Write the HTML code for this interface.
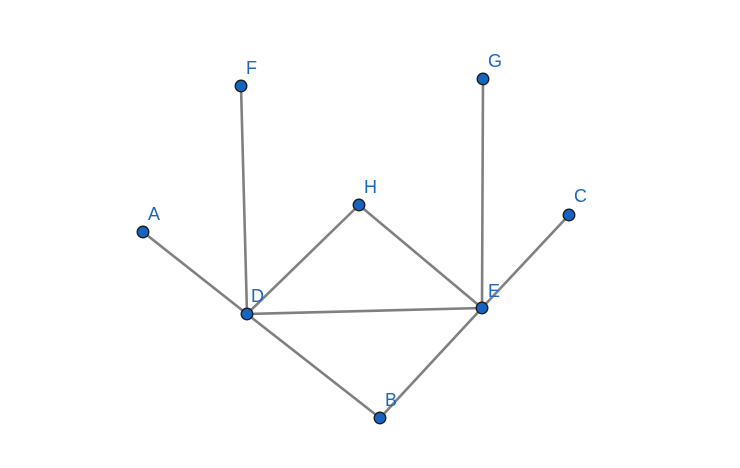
<!DOCTYPE html>
<html><head><meta charset="utf-8"><style>
html,body{margin:0;padding:0;background:#fff;}
svg{display:block;}
text{font-family:"Liberation Sans",sans-serif;font-size:18px;fill:#1e66c0;}
</style></head><body>
<svg width="740" height="468" viewBox="0 0 740 468">
<g stroke="#808080" stroke-width="2.6" stroke-linecap="round">
<line x1="143" y1="232" x2="247" y2="314"/>
<line x1="241" y1="86" x2="247" y2="314"/>
<line x1="247" y1="314" x2="359" y2="205"/>
<line x1="359" y1="205" x2="482" y2="308"/>
<line x1="247" y1="314" x2="482" y2="308"/>
<line x1="483" y1="79" x2="482" y2="308"/>
<line x1="569" y1="215" x2="482" y2="308"/>
<line x1="247" y1="314" x2="380" y2="418"/>
<line x1="380" y1="418" x2="482" y2="308"/>
</g>
<g fill="#1565c0" stroke="#1a1a1a" stroke-width="1.3">
<circle cx="143" cy="232" r="5.8"/>
<circle cx="241" cy="86" r="5.8"/>
<circle cx="483" cy="79" r="5.8"/>
<circle cx="359" cy="205" r="5.8"/>
<circle cx="569" cy="215" r="5.8"/>
<circle cx="247" cy="314" r="5.8"/>
<circle cx="482" cy="308" r="5.8"/>
<circle cx="380" cy="418" r="5.8"/>
</g>
<text x="148" y="220">A</text>
<text x="246" y="74">F</text>
<text x="488" y="67">G</text>
<text x="364" y="193">H</text>
<text x="574" y="202">C</text>
<text x="251" y="302">D</text>
<text x="488" y="297">E</text>
<text x="385" y="406">B</text>
</svg>
</body></html>
